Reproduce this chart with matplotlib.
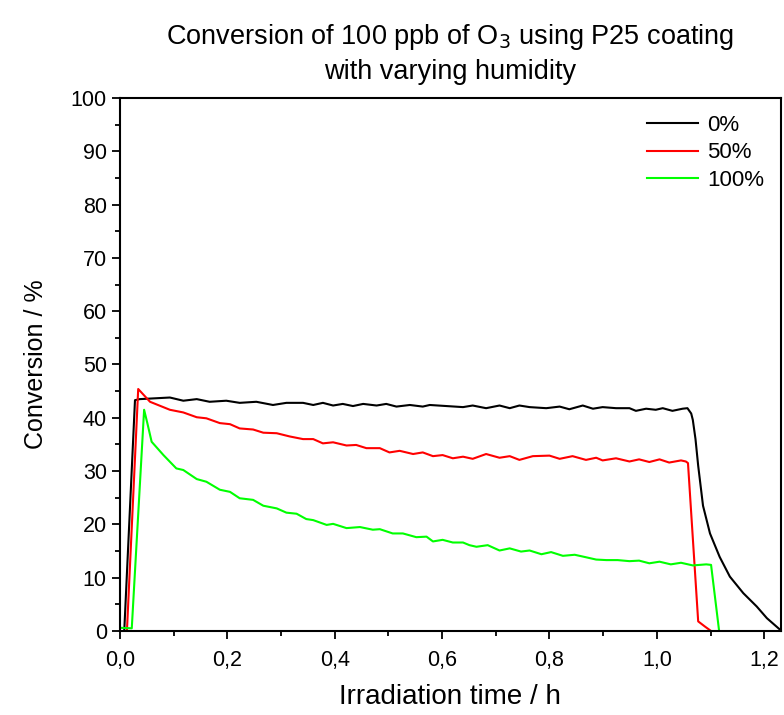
import matplotlib
matplotlib.use("Agg")
import matplotlib.pyplot as plt
from matplotlib.ticker import MultipleLocator

plt.rcParams['font.family'] = ['Liberation Sans', 'DejaVu Sans']

# values (time in h, conversion in %)
t_0 = [0.008, 0.028, 0.037, 0.093, 0.118, 0.143, 0.167, 0.198, 0.223, 0.254, 0.285, 0.310,
       0.341, 0.360, 0.378, 0.397, 0.415, 0.434, 0.453, 0.478, 0.496, 0.515, 0.540, 0.564,
       0.577, 0.608, 0.639, 0.657, 0.682, 0.707, 0.726, 0.744, 0.763, 0.794, 0.819, 0.837,
       0.862, 0.881, 0.899, 0.924, 0.949, 0.961, 0.980, 0.998, 1.011, 1.029, 1.048, 1.057,
       1.064, 1.067, 1.072, 1.077, 1.086, 1.099, 1.117, 1.136, 1.161, 1.186, 1.205, 1.230]
c_0 = [0.0, 43.3, 43.5, 43.8, 43.2, 43.5, 43.0, 43.2, 42.8, 43.0, 42.4, 42.8,
       42.8, 42.4, 42.8, 42.3, 42.6, 42.2, 42.6, 42.3, 42.6, 42.1, 42.4, 42.1,
       42.4, 42.2, 42.0, 42.3, 41.8, 42.3, 41.8, 42.3, 42.0, 41.8, 42.1, 41.6,
       42.3, 41.7, 42.0, 41.8, 41.8, 41.3, 41.7, 41.5, 41.8, 41.3, 41.7, 41.8,
       40.8, 39.6, 36.0, 31.0, 23.5, 18.3, 13.9, 10.2, 7.1, 4.6, 2.4, 0.2]

t_50 = [0.013, 0.034, 0.056, 0.093, 0.118, 0.143, 0.161, 0.186, 0.205, 0.223, 0.248, 0.267,
        0.292, 0.316, 0.341, 0.360, 0.378, 0.397, 0.422, 0.440, 0.459, 0.484, 0.502, 0.521,
        0.546, 0.564, 0.583, 0.601, 0.620, 0.639, 0.657, 0.682, 0.707, 0.726, 0.744, 0.769,
        0.800, 0.819, 0.843, 0.868, 0.887, 0.899, 0.924, 0.949, 0.967, 0.986, 1.005, 1.023,
        1.045, 1.054, 1.058, 1.077, 1.090, 1.101]
c_50 = [0.0, 45.4, 43.0, 41.5, 41.0, 40.1, 39.9, 39.0, 38.8, 38.0, 37.8, 37.2,
        37.1, 36.5, 36.0, 36.0, 35.2, 35.4, 34.8, 34.9, 34.3, 34.3, 33.5, 33.8,
        33.2, 33.5, 32.8, 33.0, 32.4, 32.7, 32.3, 33.2, 32.5, 32.8, 32.1, 32.8,
        32.9, 32.3, 32.8, 32.1, 32.5, 32.0, 32.4, 31.8, 32.2, 31.7, 32.2, 31.6,
        32.0, 31.8, 31.5, 1.8, 0.8, 0.0]

t_100 = [0.0, 0.022, 0.045, 0.051, 0.059, 0.081, 0.105, 0.118, 0.143, 0.161, 0.186, 0.205,
         0.223, 0.248, 0.267, 0.292, 0.310, 0.329, 0.347, 0.360, 0.385, 0.397, 0.422, 0.447,
         0.471, 0.484, 0.508, 0.527, 0.552, 0.571, 0.583, 0.601, 0.620, 0.639, 0.651, 0.664,
         0.685, 0.707, 0.726, 0.747, 0.763, 0.785, 0.803, 0.825, 0.847, 0.865, 0.887, 0.906,
         0.927, 0.949, 0.967, 0.986, 1.005, 1.026, 1.045, 1.067, 1.092, 1.101, 1.116]
c_100 = [0.6, 0.5, 41.5, 39.0, 35.5, 33.0, 30.5, 30.2, 28.5, 28.0, 26.5, 26.1,
         24.9, 24.6, 23.5, 23.0, 22.2, 22.0, 21.0, 20.8, 19.9, 20.1, 19.3, 19.5,
         19.0, 19.1, 18.3, 18.3, 17.6, 17.7, 16.8, 17.1, 16.6, 16.6, 16.1, 15.8,
         16.1, 15.1, 15.5, 14.9, 15.1, 14.4, 14.8, 14.1, 14.3, 13.9, 13.4, 13.3,
         13.3, 13.1, 13.2, 12.7, 13.0, 12.5, 12.8, 12.3, 12.5, 12.4, 0.0]

xticks = [0.0, 0.2, 0.4, 0.6, 0.8, 1.0, 1.2]
xtick_labels = ['0,0', '0,2', '0,4', '0,6', '0,8', '1,0', '1,2']
yticks = [0, 10, 20, 30, 40, 50, 60, 70, 80, 90, 100]

fig = plt.figure(figsize=(7.84, 7.15), dpi=100)
ax = fig.add_axes([0.153, 0.1175, 0.843, 0.7455])

ax.plot(t_0, c_0, color='black', lw=1.5, label='0%')
ax.plot(t_50, c_50, color='#ff0000', lw=1.5, label='50%')
ax.plot(t_100, c_100, color='#00ff00', lw=1.5, label='100%')

ax.set_xlim(0, 1.231)
ax.set_ylim(0, 100)
ax.set_xticks(xticks)
ax.set_xticklabels(xtick_labels)
ax.set_yticks(yticks)
ax.xaxis.set_minor_locator(MultipleLocator(0.1))
ax.yaxis.set_minor_locator(MultipleLocator(5))
ax.tick_params(which='major', direction='out', length=6, width=1.3, labelsize=15.5)
ax.tick_params(axis='x', which='major', pad=8)
ax.tick_params(which='minor', direction='out', length=3.5, width=1.3)
for s in ax.spines.values():
    s.set_linewidth(1.5)

ax.set_xlabel('Irradiation time / h', fontsize=20, labelpad=9)
ax.set_ylabel('Conversion / %', fontsize=18, labelpad=16)
ax.set_title('Conversion of 100 ppb of O$_3$ using P25 coating\nwith varying humidity',
             fontsize=19.5, pad=14, linespacing=1.35)

ax.legend(loc='upper right', frameon=False, fontsize=16, handlelength=2.3,
          handletextpad=0.4, labelspacing=0.3, borderaxespad=0.35)

plt.savefig('out.png', dpi=100)
